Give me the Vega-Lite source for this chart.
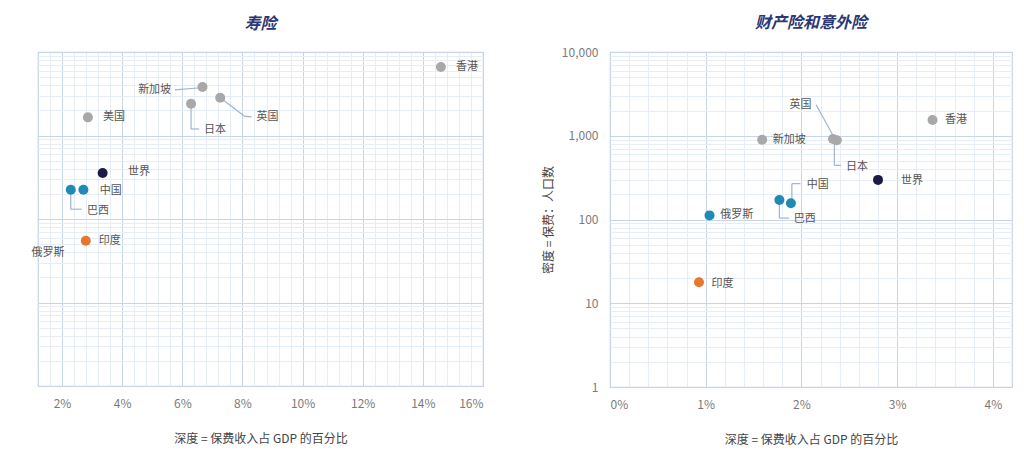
{
  "$schema": "https://vega.github.io/schema/vega-lite/v6.json",
  "padding": {"left": 30, "top": 14, "right": 5, "bottom": 5},
  "background": "white",
  "config": {
    "font": "Noto Sans CJK SC",
    "view": {"stroke": "#c8d5e8", "strokeWidth": 1.2},
    "axis": {"labelColor": "#7a7a7a", "labelFontSize": 12, "titleColor": "#444444", "titleFontSize": 12, "titleFontWeight": "normal"},
    "title": {"fontSize": 16, "fontWeight": "bold", "fontStyle": "italic", "color": "#2b3674", "offset": 20, "anchor": "middle"}
  },
  "spacing": 57,
  "datasets": {
    "life": [
      {"country": "香港", "group": "发达", "depth": 14.6, "density": 6600, "lx": 15.1, "ly": 6600},
      {"country": "新加坡", "group": "发达", "depth": 6.67, "density": 3800, "lx": 4.53, "ly": 3510},
      {"country": "英国", "group": "发达", "depth": 7.26, "density": 2830, "lx": 8.47, "ly": 1650},
      {"country": "日本", "group": "发达", "depth": 6.29, "density": 2400, "lx": 6.72, "ly": 1175},
      {"country": "美国", "group": "发达", "depth": 2.86, "density": 1650, "lx": 3.36, "ly": 1650},
      {"country": "世界", "group": "世界", "depth": 3.35, "density": 355, "lx": 4.19, "ly": 363},
      {"country": "巴西", "group": "新兴", "depth": 2.29, "density": 224, "lx": 2.83, "ly": 125},
      {"country": "中国", "group": "新兴", "depth": 2.71, "density": 224, "lx": 3.25, "ly": 216},
      {"country": "印度", "group": "印度", "depth": 2.79, "density": 55, "lx": 3.22, "ly": 55},
      {"country": "俄罗斯", "group": "新兴", "depth": null, "density": null, "lx": 0.98, "ly": 39}
    ],
    "pc": [
      {"country": "香港", "group": "发达", "depth": 3.37, "density": 1542, "lx": 3.5, "ly": 1542},
      {"country": "新加坡", "group": "发达", "depth": 1.59, "density": 897, "lx": 1.7, "ly": 897},
      {"country": "英国", "group": "发达", "depth": 2.33, "density": 915, "lx": 1.875, "ly": 2350},
      {"country": "日本", "group": "发达", "depth": 2.37, "density": 885, "lx": 2.465, "ly": 427},
      {"country": "世界", "group": "世界", "depth": 2.8, "density": 297, "lx": 3.04, "ly": 286},
      {"country": "巴西", "group": "新兴", "depth": 1.77, "density": 171, "lx": 1.92, "ly": 102},
      {"country": "中国", "group": "新兴", "depth": 1.89, "density": 156, "lx": 2.055, "ly": 261},
      {"country": "俄罗斯", "group": "新兴", "depth": 1.04, "density": 112, "lx": 1.153, "ly": 112},
      {"country": "印度", "group": "印度", "depth": 0.93, "density": 17.8, "lx": 1.06, "ly": 17}
    ],
    "lifeLeaders": [
      {"country": "新加坡", "x": 5.75, "y": 3510, "x2": 6.61, "y2": 3730},
      {"country": "英国", "x": 7.26, "y": 2830, "x2": 8.06, "y2": 1710},
      {"country": "英国", "x": 8.06, "y": 1710, "x2": 8.3, "y2": 1667},
      {"country": "日本", "x": 6.29, "y": 2400, "x2": 6.29, "y2": 1197},
      {"country": "日本", "x": 6.29, "y": 1197, "x2": 6.56, "y2": 1197},
      {"country": "巴西", "x": 2.29, "y": 224, "x2": 2.29, "y2": 131},
      {"country": "巴西", "x": 2.29, "y": 131, "x2": 2.65, "y2": 131}
    ],
    "pcLeaders": [
      {"country": "英国", "x": 2.153, "y": 2350, "x2": 2.35, "y2": 922},
      {"country": "日本", "x": 2.344, "y": 890, "x2": 2.344, "y2": 443},
      {"country": "日本", "x": 2.344, "y": 443, "x2": 2.413, "y2": 443},
      {"country": "中国", "x": 1.9, "y": 156, "x2": 1.9, "y2": 268},
      {"country": "中国", "x": 1.9, "y": 268, "x2": 1.99, "y2": 268},
      {"country": "巴西", "x": 1.77, "y": 171, "x2": 1.77, "y2": 104},
      {"country": "巴西", "x": 1.77, "y": 104, "x2": 1.87, "y2": 104}
    ]
  },
  "hconcat": [
    {
      "width": 445,
      "height": 334,
      "title": {"text": "寿险"},
      "resolve": {"axis": {"x": "independent", "y": "independent"}},
      "layer": [
        {
          "data": {"name": "life"},
          "mark": {"type": "point", "opacity": 0},
          "encoding": {
            "x": {"field": "depth", "type": "quantitative", "scale": {"domain": [1.2, 16], "nice": false, "zero": false},
              "axis": {"orient": "top", "values": [1.6, 2.4, 2.8, 3.2, 3.6, 4.4, 4.8, 5.2, 5.6, 6.4, 6.8, 7.2, 7.6, 8.4, 8.8, 9.2, 9.6, 10.4, 10.8, 11.2, 11.6, 12.4, 12.8, 13.2, 13.6, 14.4, 14.8, 15.2, 15.6],
                "grid": true, "gridColor": "#e6edf7", "labels": false, "ticks": false, "domain": false, "title": null}},
            "y": {"field": "density", "type": "quantitative", "scale": {"type": "log", "domain": [1, 10000], "nice": false},
              "axis": {"orient": "right", "values": [2, 3, 4, 5, 6, 7, 8, 9, 20, 30, 40, 50, 60, 70, 80, 90, 200, 300, 400, 500, 600, 700, 800, 900, 2000, 3000, 4000, 5000, 6000, 7000, 8000, 9000],
                "grid": true, "gridColor": "#e6edf7", "labels": false, "ticks": false, "domain": false, "title": null}}
          }
        },
        {
          "data": {"name": "lifeLeaders"},
          "mark": {"type": "rule", "color": "#9fb4d0", "strokeWidth": 1.2},
          "encoding": {
            "x": {"field": "x", "type": "quantitative", "axis": null},
            "y": {"field": "y", "type": "quantitative", "axis": null},
            "x2": {"field": "x2"},
            "y2": {"field": "y2"}
          }
        },
        {
          "data": {"name": "life"},
          "mark": {"type": "circle", "size": 100, "opacity": 1},
          "encoding": {
            "x": {"field": "depth", "type": "quantitative",
              "axis": {"orient": "bottom", "values": [2, 4, 6, 8, 10, 12, 14, 16], "labelExpr": "datum.value + '%'", "grid": true, "gridColor": "#c8d5e8", "ticks": false, "domain": false, "labelPadding": 12, "title": "深度 = 保费收入占 GDP 的百分比", "titlePadding": 24}},
            "y": {"field": "density", "type": "quantitative",
              "axis": {"orient": "left", "values": [1, 10, 100, 1000, 10000], "grid": true, "gridColor": "#c8d5e8", "labels": false, "ticks": false, "domain": false, "title": null}},
            "color": {"field": "group", "type": "nominal", "legend": null,
              "scale": {"domain": ["发达", "世界", "新兴", "印度"], "range": ["#a8a8a8", "#1c1a45", "#1f8ab3", "#e8772e"]}}
          }
        },
        {
          "data": {"name": "life"},
          "mark": {"type": "text", "align": "left", "baseline": "middle", "fontSize": 11, "color": "#555555"},
          "encoding": {
            "x": {"field": "lx", "type": "quantitative", "axis": null},
            "y": {"field": "ly", "type": "quantitative", "axis": null},
            "text": {"field": "country"}
          }
        }
      ]
    },
    {
      "width": 402,
      "height": 335,
      "title": {"text": "财产险和意外险", "offset": 15},
      "resolve": {"axis": {"x": "independent", "y": "independent"}},
      "layer": [
        {
          "data": {"name": "pc"},
          "mark": {"type": "point", "opacity": 0},
          "encoding": {
            "x": {"field": "depth", "type": "quantitative", "scale": {"domain": [0, 4.2], "nice": false, "zero": false},
              "axis": {"orient": "top", "values": [0.2, 0.4, 0.6, 0.8, 1.2, 1.4, 1.6, 1.8, 2.2, 2.4, 2.6, 2.8, 3.2, 3.4, 3.6, 3.8],
                "grid": true, "gridColor": "#e6edf7", "labels": false, "ticks": false, "domain": false, "title": null}},
            "y": {"field": "density", "type": "quantitative", "scale": {"type": "log", "domain": [1, 10000], "nice": false},
              "axis": {"orient": "right", "values": [2, 3, 4, 5, 6, 7, 8, 9, 20, 30, 40, 50, 60, 70, 80, 90, 200, 300, 400, 500, 600, 700, 800, 900, 2000, 3000, 4000, 5000, 6000, 7000, 8000, 9000],
                "grid": true, "gridColor": "#e6edf7", "labels": false, "ticks": false, "domain": false, "title": null}}
          }
        },
        {
          "data": {"name": "pcLeaders"},
          "mark": {"type": "rule", "color": "#9fb4d0", "strokeWidth": 1.2},
          "encoding": {
            "x": {"field": "x", "type": "quantitative", "axis": null},
            "y": {"field": "y", "type": "quantitative", "axis": null},
            "x2": {"field": "x2"},
            "y2": {"field": "y2"}
          }
        },
        {
          "data": {"name": "pc"},
          "mark": {"type": "circle", "size": 100, "opacity": 1},
          "encoding": {
            "x": {"field": "depth", "type": "quantitative",
              "axis": {"orient": "bottom", "values": [0, 1, 2, 3, 4], "labelExpr": "datum.value + '%'", "grid": true, "gridColor": "#c8d5e8", "ticks": false, "domain": false, "labelPadding": 12, "title": "深度 = 保费收入占 GDP 的百分比", "titlePadding": 24}},
            "y": {"field": "density", "type": "quantitative",
              "axis": {"orient": "left", "values": [1, 10, 100, 1000, 10000], "format": ",", "grid": true, "gridColor": "#c8d5e8", "ticks": false, "domain": false, "labelPadding": 12, "title": "密度 = 保费：人口数", "titlePadding": 6}},
            "color": {"field": "group", "type": "nominal", "legend": null,
              "scale": {"domain": ["发达", "世界", "新兴", "印度"], "range": ["#a8a8a8", "#1c1a45", "#1f8ab3", "#e8772e"]}}
          }
        },
        {
          "data": {"name": "pc"},
          "mark": {"type": "text", "align": "left", "baseline": "middle", "fontSize": 11, "color": "#555555"},
          "encoding": {
            "x": {"field": "lx", "type": "quantitative", "axis": null},
            "y": {"field": "ly", "type": "quantitative", "axis": null},
            "text": {"field": "country"}
          }
        }
      ]
    }
  ]
}
